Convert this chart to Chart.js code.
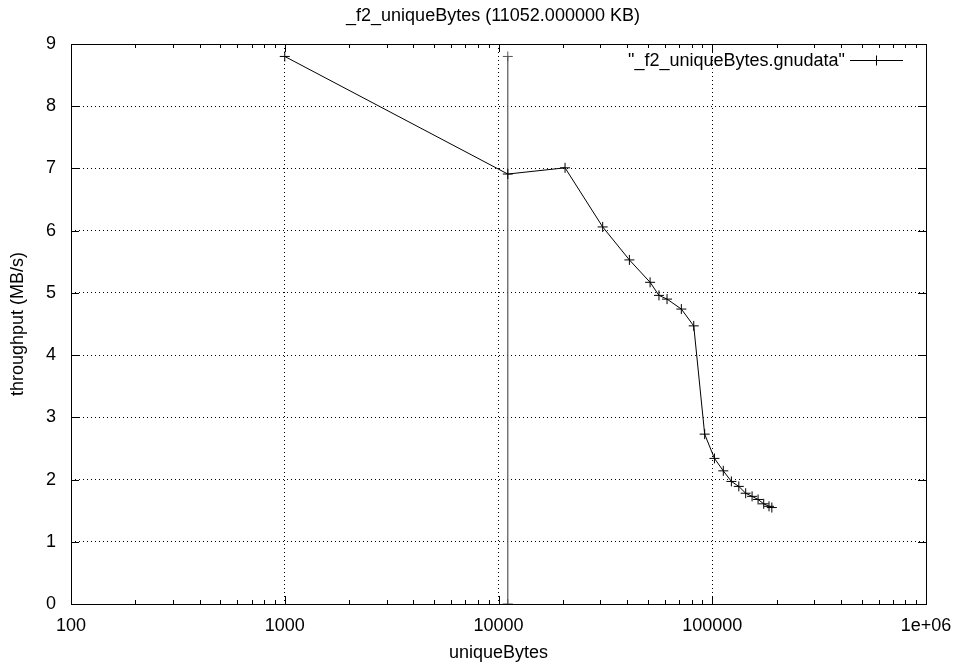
<!DOCTYPE html>
<html>
<head>
<meta charset="utf-8">
<title>_f2_uniqueBytes</title>
<script src="https://cdn.jsdelivr.net/npm/chart.js@4/dist/chart.umd.min.js"></script>
<style>
  html, body { margin: 0; padding: 0; background: #fff; }
  #wrap { width: 957px; height: 664px; }
</style>
</head>
<body>
<div id="wrap"><canvas id="c"></canvas></div>
<script>
// gnuplot-style throughput plot, log x axis

const chartTitle = '_f2_uniqueBytes (11052.000000 KB)';
const xTitle = 'uniqueBytes';
const yTitle = 'throughput (MB/s)';
const seriesLabel = '"_f2_uniqueBytes.gnudata"';

const uniqueBytes = [1000, 11052, 20480, 30720, 40960, 51200, 56320, 61440, 71680, 81920,
  92160, 102400, 112640, 122880, 133120, 143360, 153600, 163840, 174080, 184320, 190000];
const throughput = [8.8, 6.91, 7.01, 6.06, 5.53, 5.17, 4.96, 4.9, 4.74, 4.47,
  2.73, 2.34, 2.14, 1.97, 1.89, 1.78, 1.73, 1.68, 1.61, 1.57, 1.55];

// the marker line at the reference size
const refBytes = [11052, 11052];
const refThroughput = [0, 8.8];

const xTickValues = [100, 1000, 10000, 100000, 1000000];
const xTickLabels = ['100', '1000', '10000', '100000', '1e+06'];
const yMin = 0, yMax = 9, yStep = 1;

const FONT = 'Liberation Sans, Arial, Helvetica, sans-serif';
const FSIZE = 18;

const noPad = s => { s.paddingLeft = 0; s.paddingRight = 0; s.paddingTop = 0; s.paddingBottom = 0; };

const gnuFrame = {
  id: 'gnuFrame',
  afterDraw(chart) {
    const { ctx, chartArea: a, scales: { x, y } } = chart;
    const px = v => Math.round(v) + 0.5;
    ctx.save();
    ctx.strokeStyle = '#000';
    ctx.lineWidth = 1;
    ctx.setLineDash([]);
    ctx.strokeRect(px(a.left), px(a.top), Math.round(a.right) - Math.round(a.left), Math.round(a.bottom) - Math.round(a.top));

    ctx.beginPath();
    // x ticks, bottom and top, major + minor
    xTickValues.forEach((v, i) => {
      const xp = px(x.getPixelForValue(v));
      ctx.moveTo(xp, a.bottom); ctx.lineTo(xp, a.bottom - 8);
      ctx.moveTo(xp, a.top); ctx.lineTo(xp, a.top + 8);
      if (i < xTickValues.length - 1) {
        for (let m = 2; m <= 9; m++) {
          const mp = px(x.getPixelForValue(v * m));
          ctx.moveTo(mp, a.bottom); ctx.lineTo(mp, a.bottom - 4);
          ctx.moveTo(mp, a.top); ctx.lineTo(mp, a.top + 4);
        }
      }
    });
    // y ticks, left and right
    for (let v = yMin; v <= yMax; v += yStep) {
      const yp = px(y.getPixelForValue(v));
      ctx.moveTo(a.left, yp); ctx.lineTo(a.left + 8, yp);
      ctx.moveTo(a.right, yp); ctx.lineTo(a.right - 8, yp);
    }
    ctx.stroke();

    // texts
    ctx.fillStyle = '#000';
    ctx.font = FSIZE + 'px ' + FONT;
    ctx.textAlign = 'center';
    ctx.textBaseline = 'alphabetic';
    ctx.fillText(chartTitle, 493, 21);
    ctx.fillText(xTitle, (a.left + a.right) / 2, 658);

    ctx.save();
    ctx.translate(23, (a.top + a.bottom) / 2);
    ctx.rotate(-Math.PI / 2);
    ctx.fillText(yTitle, 0, 0);
    ctx.restore();

    // key, top right inside the plot
    ctx.textAlign = 'right';
    ctx.fillText(seriesLabel, 845, 66);
    ctx.beginPath();
    ctx.moveTo(850, 60.5); ctx.lineTo(903, 60.5);
    ctx.moveTo(871.5, 60.5); ctx.lineTo(881.5, 60.5);
    ctx.moveTo(876.5, 55.5); ctx.lineTo(876.5, 65.5);
    ctx.stroke();
    ctx.restore();
  }
};

new Chart(document.getElementById('c'), {
  type: 'line',
  data: {
    datasets: [
      {
        label: seriesLabel,
        data: uniqueBytes.map((b, i) => ({ x: b, y: throughput[i] })),
        borderColor: '#000',
        backgroundColor: '#000',
        borderWidth: 1,
        tension: 0,
        pointStyle: 'cross',
        pointRadius: 5,
        pointBorderWidth: 1,
        pointBorderColor: '#000'
      },
      {
        label: 'ref',
        data: refBytes.map((b, i) => ({ x: b, y: refThroughput[i] })),
        borderColor: '#555',
        borderWidth: 1.2,
        tension: 0,
        pointStyle: 'cross',
        pointRadius: 5,
        pointBorderWidth: 1,
        pointBorderColor: '#555'
      }
    ]
  },
  options: {
    responsive: true,
    maintainAspectRatio: false,
    animation: false,
    devicePixelRatio: 1,
    layout: { padding: { top: 44, right: 31, left: 0, bottom: 0 } },
    plugins: {
      legend: { display: false },
      title: { display: false },
      tooltip: { enabled: false }
    },
    scales: {
      x: {
        type: 'logarithmic',
        min: 100,
        max: 1000000,
        afterBuildTicks: s => { s.ticks = xTickValues.map(v => ({ value: v })); },
        afterFit: s => { s.height = 60; noPad(s); },
        grid: { color: '#000', lineWidth: 1, drawTicks: false },
        border: { display: false, dash: [1, 3] },
        ticks: {
          autoSkip: false,
          maxRotation: 0,
          padding: 11,
          color: '#000',
          font: { family: FONT, size: FSIZE },
          callback: v => {
            const i = xTickValues.indexOf(v);
            return i >= 0 ? xTickLabels[i] : '';
          }
        }
      },
      y: {
        min: yMin,
        max: yMax,
        afterFit: s => { s.width = 71; noPad(s); },
        grid: { color: '#000', lineWidth: 1, drawTicks: false },
        border: { display: false, dash: [1, 3] },
        ticks: {
          stepSize: yStep,
          padding: 15,
          color: '#000',
          font: { family: FONT, size: FSIZE }
        }
      }
    }
  },
  plugins: [gnuFrame]
});
</script>
</body>
</html>
